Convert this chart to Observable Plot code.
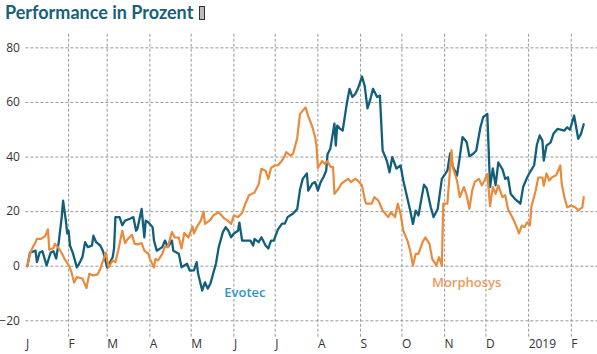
<!DOCTYPE html>
<html><head><meta charset="utf-8">
<script src="https://cdn.jsdelivr.net/npm/d3@7"></script>
<script src="https://cdn.jsdelivr.net/npm/@observablehq/plot@0.6"></script>
<style>
body{margin:0;background:#fff;}
#title{height:30px;box-sizing:border-box;padding:1px 0 0 5px;font:bold 18px Lato, "Open Sans", sans-serif;color:#17607a;line-height:22px;white-space:nowrap;}
#title .box{display:inline-block;width:4px;height:12px;border:1px solid #333;background:#bbb;margin-left:6px;vertical-align:-1px;}
#chart svg{display:block;}
</style></head><body>
<div id="title">Performance in Prozent<span class="box"></span></div>
<div id="chart"></div>
<script>
const evotecDates = ["2018-01-02","2018-01-04","2018-01-08","2018-01-09","2018-01-11","2018-01-13","2018-01-16","2018-01-19","2018-01-21","2018-01-23","2018-01-25","2018-01-27","2018-01-28","2018-01-30","2018-01-31","2018-02-01","2018-02-02","2018-02-04","2018-02-07","2018-02-08","2018-02-11","2018-02-13","2018-02-15","2018-02-18","2018-02-19","2018-02-21","2018-02-24","2018-02-26","2018-03-01","2018-03-05","2018-03-06","2018-03-07","2018-03-10","2018-03-12","2018-03-14","2018-03-18","2018-03-20","2018-03-22","2018-03-23","2018-03-26","2018-03-28","2018-03-29","2018-03-31","2018-04-03","2018-04-04","2018-04-06","2018-04-10","2018-04-12","2018-04-14","2018-04-17","2018-04-18","2018-04-22","2018-04-24","2018-04-28","2018-04-30","2018-05-03","2018-05-05","2018-05-06","2018-05-09","2018-05-11","2018-05-13","2018-05-15","2018-05-19","2018-05-21","2018-05-24","2018-05-26","2018-05-28","2018-05-30","2018-06-01","2018-06-04","2018-06-05","2018-06-07","2018-06-09","2018-06-13","2018-06-15","2018-06-16","2018-06-19","2018-06-21","2018-06-24","2018-06-26","2018-06-28","2018-06-30","2018-07-03","2018-07-06","2018-07-08","2018-07-10","2018-07-14","2018-07-17","2018-07-19","2018-07-21","2018-07-24","2018-07-25","2018-07-28","2018-07-30","2018-08-01","2018-08-03","2018-08-05","2018-08-07","2018-08-08","2018-08-10","2018-08-11","2018-08-13","2018-08-14","2018-08-15","2018-08-17","2018-08-19","2018-08-22","2018-08-24","2018-08-26","2018-08-28","2018-08-30","2018-09-02","2018-09-04","2018-09-06","2018-09-08","2018-09-10","2018-09-13","2018-09-15","2018-09-17","2018-09-20","2018-09-22","2018-09-24","2018-09-27","2018-09-30","2018-10-02","2018-10-05","2018-10-07","2018-10-09","2018-10-11","2018-10-13","2018-10-17","2018-10-19","2018-10-22","2018-10-24","2018-10-27","2018-10-30","2018-11-03","2018-11-05","2018-11-07","2018-11-10","2018-11-12","2018-11-14","2018-11-17","2018-11-19","2018-11-22","2018-11-24","2018-11-27","2018-11-29","2018-12-02","2018-12-04","2018-12-06","2018-12-08","2018-12-10","2018-12-13","2018-12-15","2018-12-17","2018-12-19","2018-12-22","2018-12-26","2018-12-28","2018-12-31","2019-01-02","2019-01-05","2019-01-07","2019-01-09","2019-01-11","2019-01-12","2019-01-14","2019-01-17","2019-01-19","2019-01-22","2019-01-27","2019-01-29","2019-01-31","2019-02-03","2019-02-06","2019-02-08","2019-02-10"];
const evotecValues = [0,5,5.7,1.5,5,5.5,0.3,5,5.5,2.8,9.4,18,24,16.7,12,13,7.6,5,-0.4,0.3,3.3,8.8,7,7.6,11.2,8.8,7.6,5.5,-0.5,3.3,6.5,18,18,15,16.7,17.5,18,13,13.8,21,10.6,16.7,16,14.3,9.4,5.7,7,9.4,7,9.4,5.7,4.6,-0.4,0.9,-1.6,-1.5,1.5,-2.7,-8.9,-5.9,-8.2,-6.3,1,7,12.5,14.3,13,10.6,12,13,16,9.4,9.4,9.4,7.6,10,8.8,10.6,7.6,6.5,9.4,9.4,13.5,15.6,15.6,18,19.3,21,28,32,34,27.7,30.3,30.8,27.7,30.8,32.6,35,41,43,46,52.2,44.2,51.5,50.4,49.7,59.6,65,62,63,65,69.5,66,57.8,61,65,62,62.5,42.4,38.7,34.4,40,35.8,36.9,31.4,24.8,20.4,15.5,20.4,18.6,29.9,28.5,21.5,18,21,32,35,41.3,36.5,33.2,40,47.3,45.5,40.3,41.3,42.4,50.9,54.6,55.8,29,35.8,29.6,38,35.5,32,32.6,26.5,24.7,22.9,29,32.6,34.5,37,44.5,47.9,46,38.7,44.2,45.4,48.5,50.3,49.7,50.9,50,55.2,46.7,48.5,52];

const morphoDates = ["2018-01-02","2018-01-04","2018-01-06","2018-01-08","2018-01-09","2018-01-12","2018-01-15","2018-01-17","2018-01-18","2018-01-21","2018-01-22","2018-01-25","2018-01-28","2018-01-29","2018-02-01","2018-02-03","2018-02-05","2018-02-07","2018-02-11","2018-02-14","2018-02-16","2018-02-19","2018-02-22","2018-02-24","2018-02-28","2018-03-02","2018-03-05","2018-03-07","2018-03-09","2018-03-12","2018-03-14","2018-03-16","2018-03-19","2018-03-21","2018-03-23","2018-03-26","2018-03-28","2018-03-31","2018-04-01","2018-04-04","2018-04-05","2018-04-07","2018-04-10","2018-04-12","2018-04-14","2018-04-17","2018-04-19","2018-04-22","2018-04-24","2018-04-26","2018-04-29","2018-05-02","2018-05-03","2018-05-05","2018-05-08","2018-05-10","2018-05-11","2018-05-15","2018-05-17","2018-05-21","2018-05-25","2018-05-28","2018-05-30","2018-06-01","2018-06-04","2018-06-07","2018-06-09","2018-06-12","2018-06-14","2018-06-16","2018-06-19","2018-06-21","2018-06-24","2018-06-26","2018-06-28","2018-07-01","2018-07-03","2018-07-06","2018-07-08","2018-07-09","2018-07-12","2018-07-14","2018-07-17","2018-07-19","2018-07-21","2018-07-23","2018-07-25","2018-07-28","2018-07-30","2018-07-31","2018-08-01","2018-08-04","2018-08-06","2018-08-08","2018-08-10","2018-08-12","2018-08-13","2018-08-16","2018-08-18","2018-08-20","2018-08-23","2018-08-25","2018-08-28","2018-08-30","2018-09-02","2018-09-04","2018-09-05","2018-09-09","2018-09-11","2018-09-14","2018-09-17","2018-09-21","2018-09-23","2018-09-26","2018-09-28","2018-09-30","2018-10-02","2018-10-05","2018-10-07","2018-10-09","2018-10-11","2018-10-13","2018-10-16","2018-10-18","2018-10-21","2018-10-23","2018-10-26","2018-10-28","2018-10-30","2018-10-31","2018-11-03","2018-11-06","2018-11-07","2018-11-10","2018-11-12","2018-11-15","2018-11-17","2018-11-19","2018-11-21","2018-11-23","2018-11-26","2018-11-28","2018-11-30","2018-12-02","2018-12-04","2018-12-06","2018-12-08","2018-12-10","2018-12-13","2018-12-15","2018-12-17","2018-12-20","2018-12-22","2018-12-25","2018-12-27","2018-12-29","2018-12-31","2019-01-02","2019-01-03","2019-01-06","2019-01-08","2019-01-11","2019-01-12","2019-01-14","2019-01-16","2019-01-18","2019-01-21","2019-01-24","2019-01-25","2019-01-27","2019-01-29","2019-02-01","2019-02-04","2019-02-06","2019-02-09","2019-02-10"];
const morphoValues = [0,4.5,7,8.8,10,10,11,13.5,6,6.7,8.2,6.5,3.9,2.7,0.5,-2,-6,-4,-4.5,-8,-2.8,-3.4,-3,-1,5,-0.4,2.1,1.5,5.7,13,8.5,10,11.5,8.2,8,8.5,5.7,4.5,2.7,-0.5,2.7,2.1,4.5,7.3,7,12.5,10.6,10.5,6.5,12.2,10.5,14.5,12,14.3,16.7,20,15.5,17,18.6,19.8,17.5,16.5,15.5,18.6,18,19.5,22.5,26,26.5,27,30,35.7,35,32,36,37,37,38.7,40.5,41.8,40.5,41.2,47,55.8,57,58.2,55,51,47.3,44,36,38.5,37.5,38.5,36.5,36.3,26.5,28.4,30.2,31,32,30.8,32,31.4,29.6,24.5,22.9,22.9,25.3,24,20.4,18,19.8,18,22.9,19.2,13,9.4,5.7,0.3,4.5,4.5,8.8,10.6,8.2,2.7,0.3,3.3,0.3,22.9,22.9,42.5,36,31.4,25.3,29,26,21,27.7,31,32,29.6,31.4,33.8,22,29,26.5,29.6,25.3,26,21,18,16,12,14.9,14.3,16.1,15,21.8,27.5,32.5,32.5,29.5,34,31.4,32.6,33.3,36.9,30.2,25.3,21.6,22.2,21.5,20.5,21.6,25.3];

const monthTicks = ["2018-01-01","2018-02-01","2018-03-01","2018-04-01","2018-05-01","2018-06-01","2018-07-01","2018-08-01","2018-09-01","2018-10-01","2018-11-01","2018-12-01","2019-01-01","2019-02-01"];
const monthLabels = ["J","F","M","A","M","J","J","A","S","O","N","D","2019","F"];
const yTicks = [-20, 0, 20, 40, 60, 80];
const seriesNames = ["Evotec", "Morphosys"];
const seriesColors = ["#125f7b", "#ea8a3b"];
const labelColors = ["#2f93c8", "#ec9a5c"];
const labelDates = ["2018-06-09", "2018-11-17"];
const labelValues = [-9.6, -6];

const evotec = evotecDates.map((d, i) => ({date: new Date(d), value: evotecValues[i]}));
const morpho = morphoDates.map((d, i) => ({date: new Date(d), value: morphoValues[i]}));
const tickDates = monthTicks.map(d => new Date(d));
const labelMap = new Map(tickDates.map((d, i) => [+d, monthLabels[i]]));
const labels = seriesNames.map((n, i) => ({name: n, date: new Date(labelDates[i]), value: labelValues[i], color: labelColors[i]}));

const chart = Plot.plot({
  width: 597,
  height: 324,
  marginLeft: 25.4,
  marginRight: 0,
  marginTop: 3.7,
  marginBottom: 17.3,
  x: {type: "utc", domain: [new Date("2018-01-01"), new Date("2019-02-20")], label: null},
  y: {domain: [-26, 85], label: null},
  style: {fontFamily: "'Open Sans', sans-serif", fontSize: "12px", color: "#333", background: "#fff", overflow: "visible"},
  marks: [
    Plot.gridY(yTicks, {stroke: "#8c8c8c", strokeOpacity: 1, strokeWidth: 0.9, strokeDasharray: "3,2"}),
    Plot.gridX(tickDates.slice(1), {stroke: "#8c8c8c", strokeOpacity: 1, strokeWidth: 0.9, strokeDasharray: "3,2"}),
    Plot.axisY(yTicks, {tickSize: 0, tickPadding: 6, fill: "#333", fontSize: 12, label: null}),
    Plot.axisX(tickDates, {tickSize: 0, tickPadding: 2, textAnchor: "start", dx: 0, fill: "#333", fontSize: 12, label: null, tickFormat: d => labelMap.get(+d)}),
    Plot.line(evotec, {x: "date", y: "value", stroke: seriesColors[0], strokeWidth: 2.3}),
    Plot.line(morpho, {x: "date", y: "value", stroke: seriesColors[1], strokeWidth: 2.2}),
    Plot.text(labels, {x: "date", y: "value", text: "name", fill: "color", fontSize: 13, fontWeight: 600})
  ]
});
document.getElementById("chart").appendChild(chart);
</script>
</body></html>
